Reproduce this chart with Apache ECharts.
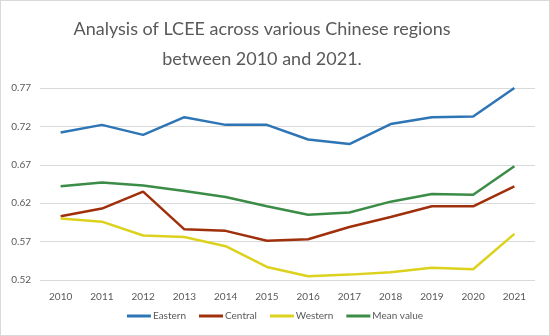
<!DOCTYPE html>
<html><head><meta charset="utf-8">
<script src="https://cdn.jsdelivr.net/npm/echarts@6/dist/echarts.min.js"></script>
<style>html,body{margin:0;padding:0;background:#fff}#c{width:550px;height:336px;box-sizing:border-box;border:1px solid #d9d9d9}</style>
</head><body><div id="c"></div>
<script>
const years = ['2010','2011','2012','2013','2014','2015','2016','2017','2018','2019','2020','2021'];
const eastern = [0.712,0.722,0.709,0.732,0.722,0.722,0.703,0.697,0.723,0.732,0.733,0.770];
const central = [0.603,0.613,0.635,0.586,0.584,0.571,0.573,0.589,0.602,0.616,0.616,0.642];
const western = [0.600,0.596,0.578,0.576,0.564,0.537,0.525,0.527,0.530,0.536,0.534,0.580];
const meanValue = [0.642,0.647,0.643,0.636,0.628,0.616,0.605,0.608,0.622,0.632,0.631,0.668];
const yTicks = {min:0.52, max:0.77, interval:0.05};

const font = 'Lato';
const chart = echarts.init(document.getElementById('c'));
const mk = (name, data, color) => ({
  name, type:'line', data, symbol:'none', smooth:false,
  lineStyle:{width:2.5, color}, itemStyle:{color}
});
chart.setOption({
  animation:false,
  title:{text:'Analysis of LCEE across various Chinese regions\nbetween 2010 and 2021.', left:256, textAlign:'center', top:8,
    textStyle:{fontFamily:font, fontSize:18, fontWeight:'normal', color:'#595959', lineHeight:30}},
  grid:{left:39, right:14, top:87, bottom:55},
  legend:{bottom:9, left:'center', itemWidth:24, itemHeight:3, itemGap:13, icon:'rect',
    textStyle:{fontFamily:font, fontSize:10, color:'#595959', padding:[0,0,0,-3]},
    data:['Eastern','Central','Western','Mean value']},
  xAxis:{type:'category', data:years, boundaryGap:true,
    axisLine:{show:false}, axisTick:{show:false},
    axisLabel:{fontFamily:font, fontSize:10, color:'#595959', margin:12}},
  yAxis:{type:'value', min:yTicks.min, max:yTicks.max, interval:yTicks.interval,
    axisLine:{show:false}, axisTick:{show:false},
    splitLine:{lineStyle:{color:'#d9d9d9', width:1}},
    axisLabel:{fontFamily:font, fontSize:10, color:'#595959', margin:9, formatter:v=>v.toFixed(2)}},
  series:[
    mk('Eastern', eastern, '#2e75b6'),
    mk('Central', central, '#a0300c'),
    mk('Western', western, '#dcd21e'),
    mk('Mean value', meanValue, '#3b8c47')
  ]
});
</script></body></html>
